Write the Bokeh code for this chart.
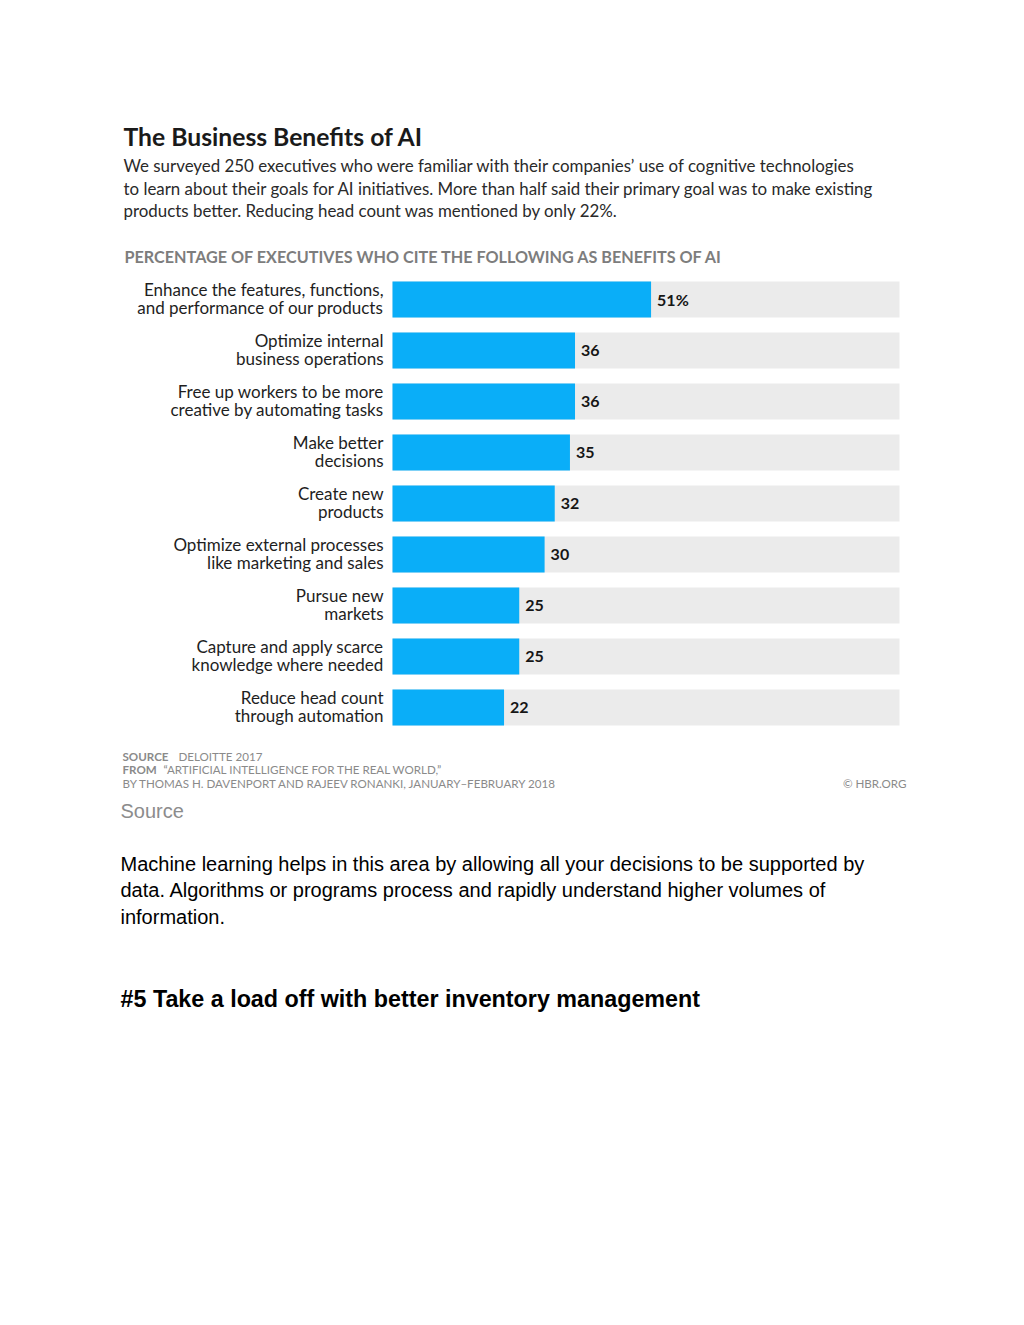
from bokeh.plotting import figure
from bokeh.models import Range1d, Label, ColumnDataSource
from bokeh.core.properties import value
from bokeh.embed import file_html
from bokeh.resources import INLINE

# ---- data ----
categories = [
    "Enhance the features, functions,\nand performance of our products",
    "Optimize internal\nbusiness operations",
    "Free up workers to be more\ncreative by automating tasks",
    "Make better\ndecisions",
    "Create new\nproducts",
    "Optimize external processes\nlike marketing and sales",
    "Pursue new\nmarkets",
    "Capture and apply scarce\nknowledge where needed",
    "Reduce head count\nthrough automation",
]
percentages = [51, 36, 36, 35, 32, 30, 25, 25, 22]
value_labels = ["51%", "36", "36", "35", "32", "30", "25", "25", "22"]
full_scale = [100] * len(percentages)

title_text = "The Business Benefits of AI"
intro_lines = [
    "We surveyed 250 executives who were familiar with their companies\u2019 use of cognitive technologies",
    "to learn about their goals for AI initiatives. More than half said their primary goal was to make existing",
    "products better. Reducing head count was mentioned by only 22%.",
]
header_text = "PERCENTAGE OF EXECUTIVES WHO CITE THE FOLLOWING AS BENEFITS OF AI"
paragraph_lines = [
    "Machine learning helps in this area by allowing all your decisions to be supported by",
    "data. Algorithms or programs process and rapidly understand higher volumes of",
    "information.",
]
heading_text = "#5 Take a load off with better inventory management"

# ---- layout ----
W, H = 1008, 1100
OX, OY = 0, 0
BAR_X0 = 392           # page px where 0% sits
PX_PER_PCT = 5.07
ROW0_Y = 299           # page px of first row centre
ROW_STEP = 51.0

def dx(px):
    return (px - BAR_X0) / PX_PER_PCT

def dy(py):
    return (py - ROW0_Y) / ROW_STEP

p = figure(width=W, height=H, output_backend="svg", toolbar_location=None,
           x_axis_location=None, y_axis_location=None, min_border=0,
           x_range=Range1d(dx(OX), dx(OX + W)),
           y_range=Range1d(dy(OY + H), dy(OY)))
p.title = None
p.grid.visible = False
p.outline_line_color = None
p.background_fill_color = "white"
p.border_fill_color = "white"

idx = list(range(len(percentages)))
src = ColumnDataSource(dict(y=idx, v=percentages, full=full_scale,
                            lab=value_labels, cat=categories))

BAR_H = 36 / ROW_STEP
p.hbar(y="y", left=0, right="full", height=BAR_H, source=src,
       fill_color="#ebebeb", line_color=None)
p.hbar(y="y", left=0, right="v", height=BAR_H, source=src,
       fill_color="#0aaef8", line_color=None)

p.text(x="v", y="y", text="lab", source=src, x_offset=6,
       text_align="left", text_baseline="middle",
       text_font=value("Lato"), text_font_style="bold",
       text_font_size="16px", text_color="#161616")

p.text(x=0, y="y", text="cat", source=src, x_offset=-9, y_offset=-1,
       text_align="right", text_baseline="middle",
       text_font=value("Lato"), text_font_size="17px",
       text_line_height=0.89, text_color="#1e1e1e")

def label(px, py, text, size, font="Lato", style="normal", color="#1e1e1e", align="left"):
    p.add_layout(Label(x=dx(px), y=dy(py), text=text, text_font=font,
                       text_font_size=size, text_font_style=style,
                       text_color=color, text_align=align,
                       text_baseline="middle"))

label(123, 136, title_text, "24.7px", style="bold", color="#1a1a1a")
for i, ln in enumerate(intro_lines):
    label(123, 165 + i * 22.5, ln, "16.9px", color="#2a2a2a")
label(124, 256, header_text, "16.2px", style="bold", color="#7d7d7d")

SRC_SIZE = "11.6px"
label(122, 756, "SOURCE", SRC_SIZE, style="bold", color="#8a8a8a")
label(178, 756, "DELOITTE 2017", SRC_SIZE, color="#8a8a8a")
label(122, 769, "FROM", SRC_SIZE, style="bold", color="#8a8a8a")
label(163, 769, "\u201cARTIFICIAL INTELLIGENCE FOR THE REAL WORLD,\u201d", SRC_SIZE, color="#8a8a8a")
label(122, 783, "BY THOMAS H. DAVENPORT AND RAJEEV RONANKI, JANUARY\u2013FEBRUARY 2018", SRC_SIZE, color="#8a8a8a")
label(906, 783, "\u00a9 HBR.ORG", SRC_SIZE, color="#8a8a8a", align="right")

label(120, 810, "Source", "20px", font="Liberation Sans", color="#8c8c8c")
for i, ln in enumerate(paragraph_lines):
    label(120, 863 + i * 26.5, ln, "20px", font="Liberation Sans", color="#000000")
label(120, 998, heading_text, "23.3px", font="Liberation Sans", style="bold", color="#000000")

open("out.html", "w").write(file_html(p, INLINE))
